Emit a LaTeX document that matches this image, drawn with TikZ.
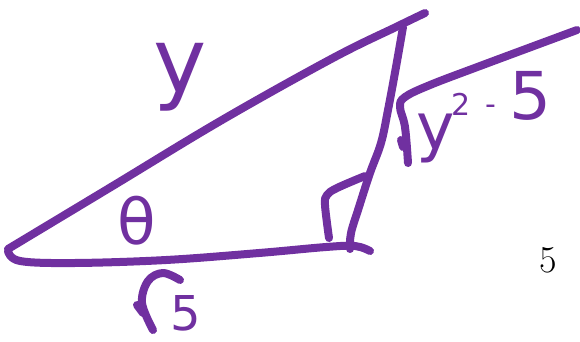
\documentclass[tikz,border=0pt]{standalone}
\usepackage{fontspec}
\usepackage{tikz}
\newfontfamily\handfont{DejaVu Sans}
\definecolor{Marker}{HTML}{7030A0}
\tikzset{
  inkline/.style={Marker, line width=8pt, line cap=round, line join=round},
  handtext/.style={text=Marker, inner sep=0pt, font=\handfont}
}

\begin{document}
\begin{tikzpicture}[x=1pt,y=-1pt]
  \useasboundingbox (0,0) rectangle (580,341);

  \draw[inkline] plot[smooth, tension=0.6] coordinates {(370,251) (355,246) (326,247) (259,253) (166,260) (74,263) (20,261) (8,251)};
  \draw[inkline] plot[smooth, tension=0.6] coordinates {(8,249) (111,187) (222,120) (333,58) (396,27) (425,13)};
  \draw[inkline] plot[smooth, tension=0.6] coordinates {(403,27) (396,67) (388,110) (381,143) (370,173) (359,207) (351,233) (350,249)};
  \draw[inkline] plot[smooth, tension=0.6] coordinates {(329,238) (325,205) (327,195) (337,188) (365,176)};

  \node[handtext, font=\handfont\fontsize{90}{90}\selectfont] (hyp) at (180,77) {y};
  \node[handtext, font=\handfont\fontsize{63}{63}\selectfont] (ang) at (137,221) {θ};

  \draw[inkline] plot[smooth, tension=0.6] coordinates {(153,330) (142,303) (148,281) (163,273) (180,280)};
  \draw[inkline] (137,305) -- (143,313);
  \node[handtext, font=\handfont\fontsize{48}{48}\selectfont] (adj) at (186,313) {5};

  \draw[inkline] plot[smooth, tension=0.6] coordinates {(408,163) (405,127) (400,107) (405,97) (430,85) (480,66) (577,30)};
  \draw[inkline] (401,140) -- (403,147);
  \node[handtext, font=\handfont\fontsize{65}{65}\selectfont] (opp y) at (436,138) {y};
  \node[handtext, font=\handfont\fontsize{30}{30}\selectfont] (opp two) at (461,104) {2};
  \node[handtext, font=\handfont\fontsize{30}{30}\selectfont] (opp minus) at (491,110) {-};
  \node[handtext, font=\handfont\fontsize{66}{66}\selectfont] (opp five) at (530,96) {5};

  \node[inner sep=0pt, font=\fontsize{38}{38}\selectfont] (pagenum) at (548,260) {5};
\end{tikzpicture}
\end{document}
